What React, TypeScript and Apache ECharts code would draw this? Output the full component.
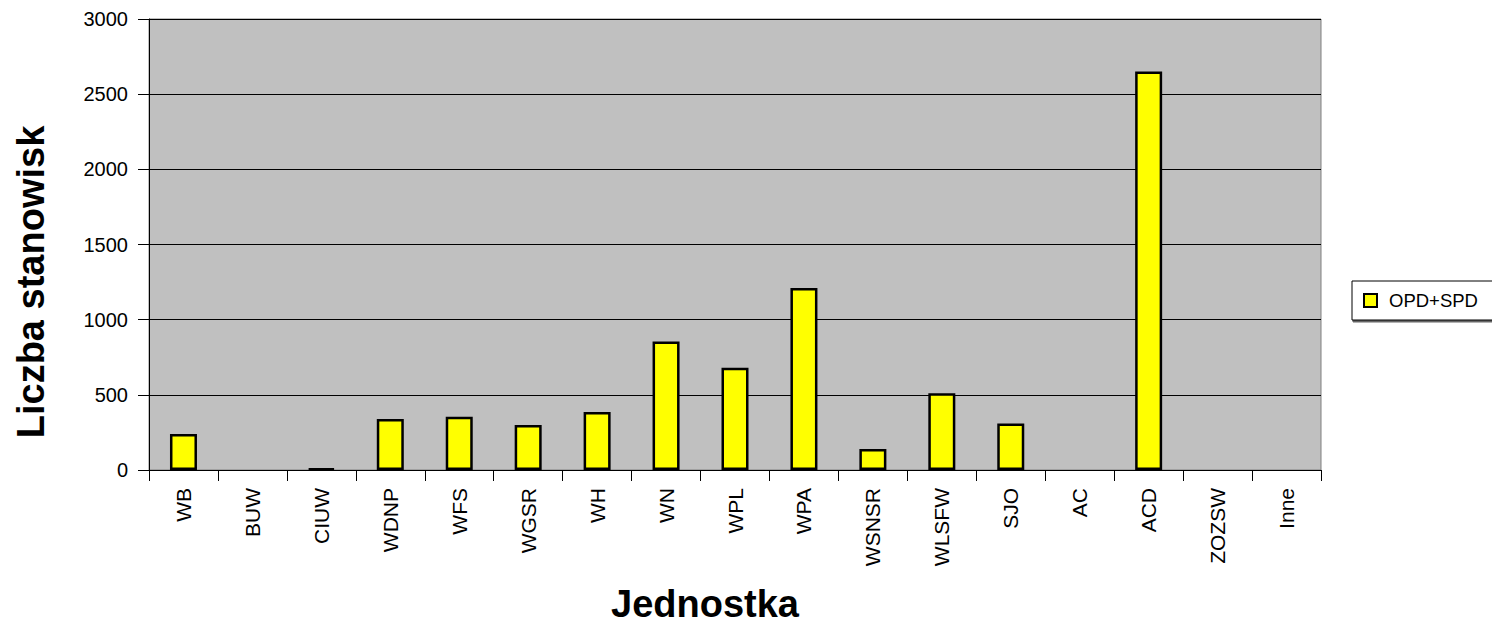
import React, { useEffect, useRef } from "react";
import * as echarts from "echarts";

const categories = ["WB", "BUW", "CIUW", "WDNP", "WFS", "WGSR", "WH", "WN", "WPL", "WPA", "WSNSR", "WLSFW", "SJO", "AC", "ACD", "ZOZSW", "Inne"];
const seriesName = "OPD+SPD";
const values = [240, 0, 10, 340, 355, 300, 385, 855, 680, 1210, 140, 510, 310, 0, 2650, 0, 0];
const yTicks = { min: 0, max: 3000, interval: 500 };
const yTitle = "Liczba stanowisk";
const xTitle = "Jednostka";

const FONT = "'Liberation Sans', Arial, sans-serif";

export default function App() {
  const ref = useRef<HTMLDivElement>(null);
  useEffect(() => {
    if (!ref.current) return;
    const chart = echarts.init(ref.current, undefined, { renderer: "svg" });
    chart.setOption({
      animation: false,
      backgroundColor: "#ffffff",
      grid: {
        left: 149,
        top: 19,
        width: 1172,
        height: 451,
        show: true,
        backgroundColor: "#c0c0c0",
        borderColor: "#808080",
        borderWidth: 1,
        containLabel: false,
      },
      legend: {
        show: true,
        data: [seriesName],
        left: 1352,
        top: 281,
        orient: "vertical",
        itemWidth: 13,
        itemHeight: 13,
        padding: [10, 40, 10, 11],
        borderColor: "#000",
        borderWidth: 1,
        backgroundColor: "#fff",
        shadowColor: "rgba(0,0,0,0.6)",
        shadowOffsetY: 2,
        shadowOffsetX: 1,
        icon: "rect",
        textStyle: { fontFamily: FONT, fontSize: 18.5, color: "#000", padding: [0, 0, 0, 7] },
      },
      xAxis: {
        type: "category",
        data: categories,
        boundaryGap: true,
        axisLine: { show: true, lineStyle: { color: "#000", width: 1 } },
        axisTick: { show: true, alignWithLabel: false, interval: 0, length: 11, lineStyle: { color: "#000" } },
        axisLabel: { interval: 0, rotate: 90, margin: 18, fontFamily: FONT, fontSize: 21, color: "#000" },
        splitLine: { show: false },
      },
      yAxis: {
        type: "value",
        min: yTicks.min,
        max: yTicks.max,
        interval: yTicks.interval,
        axisLine: { show: true, lineStyle: { color: "#000", width: 1 } },
        axisTick: { show: true, inside: false, length: 11, lineStyle: { color: "#000" } },
        axisLabel: {
          margin: 21,
          fontFamily: FONT,
          fontSize: 20,
          color: "#000",
          formatter: (v: number) => String(v),
        },
        splitLine: { show: true, lineStyle: { color: "#000", width: 1 } },
      },
      series: [
        {
          name: seriesName,
          type: "bar",
          data: values.map((v) => (v === 0 ? { value: v, itemStyle: { borderWidth: 0 } } : v)),
          barWidth: 27,
          itemStyle: { color: "#ffff00", borderColor: "#000", borderWidth: 2.5 },
        },
      ],
      graphic: [
        {
          type: "text",
          x: 31,
          y: 282,
          rotation: Math.PI / 2,
          style: {
            text: yTitle,
            fontFamily: FONT,
            fontSize: 38,
            fontWeight: "bold",
            fill: "#000",
            align: "center",
            verticalAlign: "middle",
          },
        },
        {
          type: "text",
          x: 705,
          y: 604,
          style: {
            text: xTitle,
            fontFamily: FONT,
            fontSize: 38,
            fontWeight: "bold",
            fill: "#000",
            align: "center",
            verticalAlign: "middle",
          },
        },
      ],
    });
    return () => chart.dispose();
  }, []);
  return (
    <div
      ref={ref}
      style={{ position: "fixed", left: 0, top: 0, width: 1492, height: 625 }}
    />
  );
}
